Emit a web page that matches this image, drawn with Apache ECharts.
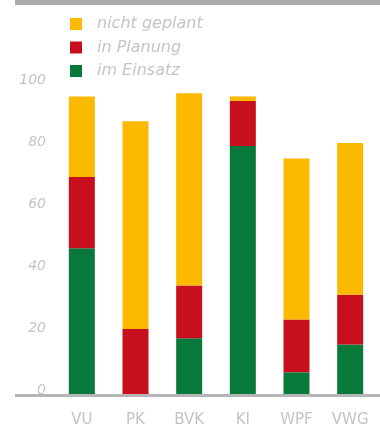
<!DOCTYPE html>
<html>
<head>
<meta charset="utf-8">
<script src="https://cdn.jsdelivr.net/npm/echarts@6/dist/echarts.min.js"></script>
<style>
  html, body { margin: 0; padding: 0; background: #fff; }
  #chart { width: 380px; height: 428px; }
</style>
</head>
<body>
<div id="chart"></div>
<script>
// Kategorien und Werte (Prozent), von unten nach oben gestapelt
const categories = ['VU', 'PK', 'BVK', 'KI', 'WPF', 'VWG'];
const imEinsatz = [47, 0, 18, 80, 7, 16];
const inPlanung = [23, 21, 17, 14.5, 17, 16];
const nichtGeplant = [26, 67, 62, 1.5, 52, 49];
const seriesNames = ['nicht geplant', 'in Planung', 'im Einsatz'];

const chart = echarts.init(document.getElementById('chart'));
const labelGray = '#c4c4c4';

chart.setOption({
  animation: false,
  color: ['#08793b', '#c70f1d', '#fbb900'],
  legend: {
    data: seriesNames,
    orient: 'vertical',
    left: 70,
    top: 16,
    padding: 0,
    icon: 'rect',
    itemWidth: 12,
    itemHeight: 12,
    itemGap: 7.5,
    textStyle: {
      color: labelGray,
      fontSize: 16,
      fontStyle: 'italic',
      fontFamily: 'DejaVu Sans',
      padding: [0, 0, 0, 10]
    }
  },
  grid: {
    left: 55,
    right: 3,
    top: 84,
    bottom: 34
  },
  xAxis: {
    type: 'category',
    data: categories,
    axisLine: { show: false },
    axisTick: { show: false },
    axisLabel: {
      color: labelGray,
      fontSize: 15,
      fontFamily: 'DejaVu Sans',
      margin: 19
    }
  },
  yAxis: {
    type: 'value',
    min: 0,
    max: 100,
    interval: 20,
    axisLine: { show: false },
    axisTick: { show: false },
    splitLine: { show: false },
    axisLabel: {
      color: labelGray,
      fontSize: 14,
      fontStyle: 'italic',
      fontFamily: 'DejaVu Sans',
      margin: 9,
      verticalAlign: 'bottom',
      lineHeight: 8
    }
  },
  graphic: [
    // grauer Balken oben und Grundlinie
    { type: 'rect', shape: { x: 15, y: 0, width: 365, height: 5 }, style: { fill: '#ababab' } },
    { type: 'rect', shape: { x: 15, y: 394, width: 365, height: 3 }, style: { fill: '#b5b5b5' }, z: 10 }
  ],
  series: [
    {
      name: 'im Einsatz',
      type: 'bar',
      stack: 'total',
      barWidth: 26,
      data: imEinsatz
    },
    {
      name: 'in Planung',
      type: 'bar',
      stack: 'total',
      barWidth: 26,
      data: inPlanung
    },
    {
      name: 'nicht geplant',
      type: 'bar',
      stack: 'total',
      barWidth: 26,
      data: nichtGeplant
    }
  ]
});
</script>
</body>
</html>
